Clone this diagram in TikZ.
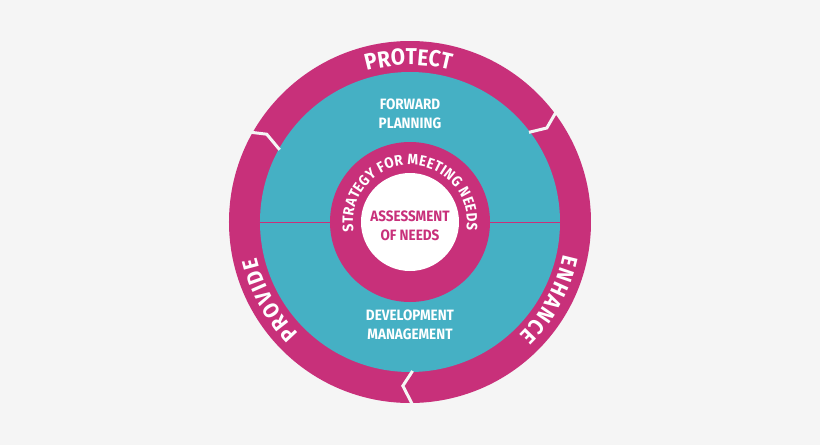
\documentclass[tikz,border=0pt]{standalone}
\usepackage{fontspec}
\setmainfont{Fira Sans}[FakeStretch=0.9]
\usetikzlibrary{decorations.text}
\definecolor{bg}{HTML}{F5F5F5}
\definecolor{mag}{HTML}{C8307A}
\definecolor{teal}{HTML}{45B0C4}
\newcommand{\fA}{\bfseries\fontsize{23}{23}\selectfont\color{white}}
\newcommand{\fB}{\bfseries\fontsize{22}{22}\selectfont\color{white}}
\newcommand{\fC}{\bfseries\fontsize{15}{15}\selectfont\color{white}}
\tikzset{
  lbl/.style={text=white,font=\bfseries\fontsize{15}{19}\selectfont,align=center},
  chev/.style={draw=bg,line width=3pt,line join=miter},
  arct/.style={decorate,decoration={text along path,text align={fit to path},text={#1}}},
}
\begin{document}
\begin{tikzpicture}[x=1pt,y=1pt]
\useasboundingbox[fill=bg] (-410,-223) rectangle (410,222);
\fill[mag] (0,0) circle (181);
\fill[teal] (0,0) circle (150);
\draw[mag,line width=1pt] (-150,0) -- (150,0);
\fill[mag] (0,0) circle (80);
\fill[white] (0,0) circle (49);
% chevrons
\draw[chev] (37:183) -- (34.5:166) -- (37:149);
\draw[chev] (151:186) -- (148.5:168) -- (151:149);
\draw[chev] (-89:184) -- (-92.5:164) -- (-89:149);
% ring texts
\path[arct={|\fA|PROTECT}] (106:157) arc[start angle=106,end angle=76,radius=157];
\path[arct={|\fB|ENHANCE}] (-12:157) arc[start angle=-12,end angle=-46,radius=157];
\path[arct={|\fB|PROVIDE}] (-135:157) arc[start angle=-135,end angle=-167,radius=157];
\path[arct={|\fC|STRATEGY FOR MEETING NEEDS}] (190:57) arc[start angle=190,end angle=-8,radius=57];
\node[lbl] (fp) at (0,108) {FORWARD\\PLANNING};
\node[lbl] (dm) at (0,-103) {DEVELOPMENT\\MANAGEMENT};
\node[lbl,text=mag] (an) at (0,-4) {ASSESSMENT\\OF NEEDS};
\end{tikzpicture}
\end{document}
